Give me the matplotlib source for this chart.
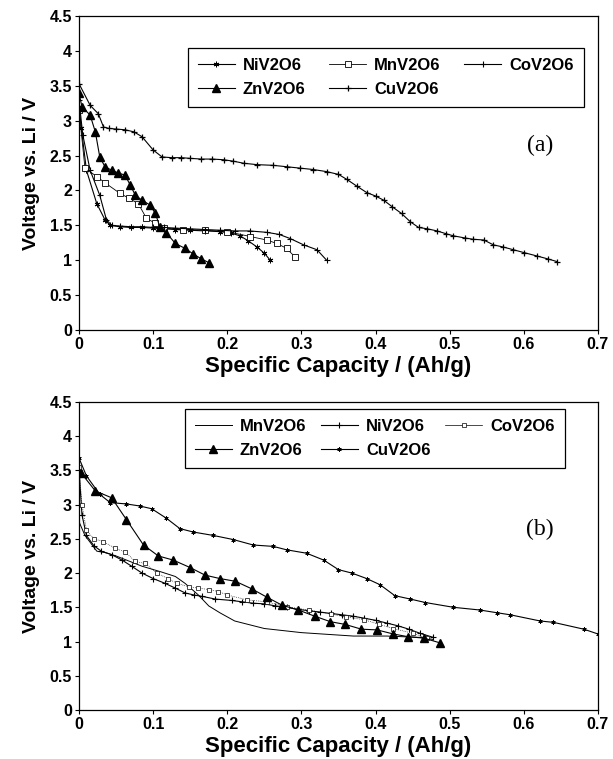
import matplotlib
matplotlib.use("Agg")
import matplotlib.pyplot as plt
from matplotlib.ticker import FixedLocator, FixedFormatter

plt.rcParams['font.family'] = ['Liberation Sans', 'DejaVu Sans']

# ---- axis ticks ----
x_ticks = [0, 0.1, 0.2, 0.3, 0.4, 0.5, 0.6, 0.7]
x_tick_labels = ['0', '0.1', '0.2', '0.3', '0.4', '0.5', '0.6', '0.7']
y_ticks = [0, 0.5, 1, 1.5, 2, 2.5, 3, 3.5, 4, 4.5]
y_tick_labels = ['0', '0.5', '1', '1.5', '2', '2.5', '3', '3.5', '4', '4.5']

# ---- panel (a) ----
a_ni_x = [0, 0.003, 0.01, 0.024, 0.035, 0.042, 0.055, 0.07, 0.085, 0.1, 0.115, 0.13,
          0.15, 0.17, 0.19, 0.205, 0.217, 0.228, 0.24, 0.25, 0.258]
a_ni_v = [3.2, 2.9, 2.29, 1.81, 1.58, 1.5, 1.48, 1.47, 1.47, 1.46, 1.45, 1.44,
          1.43, 1.42, 1.41, 1.39, 1.35, 1.28, 1.19, 1.1, 1.0]

a_mn_x = [0, 0.008, 0.024, 0.035, 0.055, 0.067, 0.08, 0.091, 0.103, 0.115, 0.14,
          0.17, 0.2, 0.231, 0.253, 0.267, 0.28, 0.291]
a_mn_v = [3.15, 2.32, 2.2, 2.11, 1.96, 1.89, 1.81, 1.6, 1.53, 1.46, 1.44,
          1.43, 1.41, 1.34, 1.29, 1.24, 1.17, 1.05]

a_co_x = [0, 0.005, 0.015, 0.028, 0.037, 0.044, 0.055, 0.07, 0.085, 0.1, 0.115, 0.13,
          0.15, 0.17, 0.19, 0.21, 0.23, 0.253, 0.27, 0.285, 0.303, 0.321, 0.334]
a_co_v = [3.3, 2.8, 2.29, 1.93, 1.58, 1.5, 1.49, 1.48, 1.48, 1.47, 1.47, 1.46,
          1.45, 1.44, 1.43, 1.42, 1.42, 1.4, 1.37, 1.31, 1.22, 1.15, 1.0]

a_zn_x = [0, 0.004, 0.015, 0.022, 0.028, 0.035, 0.044, 0.053, 0.062, 0.069, 0.076,
          0.085, 0.096, 0.103, 0.109, 0.118, 0.13, 0.143, 0.154, 0.165, 0.176]
a_zn_v = [3.39, 3.2, 3.08, 2.84, 2.48, 2.34, 2.29, 2.25, 2.22, 2.08, 1.93,
          1.86, 1.79, 1.67, 1.48, 1.39, 1.24, 1.17, 1.09, 1.02, 0.96]

a_cu_x = [0, 0.015, 0.026, 0.033, 0.04, 0.05, 0.062, 0.074, 0.085, 0.1, 0.112, 0.125,
          0.138, 0.15, 0.165, 0.18, 0.195, 0.208, 0.222, 0.24, 0.262, 0.28, 0.298,
          0.316, 0.334, 0.35, 0.361, 0.375, 0.388, 0.4, 0.411, 0.422, 0.435, 0.447,
          0.458, 0.47, 0.483, 0.495, 0.505, 0.52, 0.532, 0.546, 0.559, 0.572, 0.586,
          0.6, 0.618, 0.632, 0.645]
a_cu_v = [3.53, 3.22, 3.1, 2.91, 2.89, 2.88, 2.87, 2.84, 2.77, 2.58, 2.48, 2.47,
          2.47, 2.46, 2.45, 2.45, 2.44, 2.42, 2.39, 2.37, 2.36, 2.34, 2.32,
          2.3, 2.27, 2.23, 2.16, 2.06, 1.97, 1.92, 1.86, 1.77, 1.67, 1.55,
          1.47, 1.45, 1.42, 1.38, 1.35, 1.32, 1.3, 1.29, 1.22, 1.19, 1.15,
          1.11, 1.06, 1.02, 0.98]

# ---- panel (b) ----
b_mn_x = [0, 0.008, 0.024, 0.035, 0.05, 0.085, 0.11, 0.13, 0.143, 0.161, 0.175, 0.19,
          0.21, 0.25, 0.3, 0.37, 0.415, 0.46, 0.478]
b_mn_v = [2.75, 2.55, 2.32, 2.3, 2.25, 2.1, 2.02, 1.95, 1.85, 1.68, 1.52, 1.42,
          1.3, 1.19, 1.13, 1.08, 1.08, 1.06, 1.03]

b_ni_x = [0, 0.004, 0.01, 0.02, 0.03, 0.044, 0.058, 0.071, 0.085, 0.1, 0.116, 0.13,
          0.143, 0.155, 0.166, 0.184, 0.206, 0.22, 0.235, 0.25, 0.265, 0.28, 0.295,
          0.31, 0.325, 0.34, 0.355, 0.37, 0.385, 0.4, 0.415, 0.43, 0.445, 0.46, 0.478]
b_ni_v = [3.5, 2.85, 2.55, 2.4, 2.32, 2.27, 2.19, 2.1, 2.0, 1.92, 1.85, 1.78,
          1.71, 1.68, 1.66, 1.62, 1.6, 1.58, 1.56, 1.55, 1.52, 1.5, 1.47,
          1.45, 1.43, 1.41, 1.39, 1.37, 1.34, 1.31, 1.27, 1.23, 1.18, 1.12, 1.06]

b_co_x = [0, 0.004, 0.01, 0.02, 0.033, 0.049, 0.062, 0.076, 0.089, 0.105, 0.12, 0.132,
          0.148, 0.161, 0.175, 0.188, 0.2, 0.226, 0.253, 0.28, 0.31, 0.34, 0.36,
          0.384, 0.405, 0.424, 0.45, 0.469]
b_co_v = [3.55, 3.0, 2.63, 2.5, 2.46, 2.36, 2.31, 2.17, 2.14, 2.0, 1.92, 1.85,
          1.8, 1.78, 1.76, 1.73, 1.68, 1.61, 1.58, 1.51, 1.46, 1.4, 1.36,
          1.32, 1.25, 1.19, 1.12, 1.05]

b_zn_x = [0.003, 0.022, 0.044, 0.064, 0.087, 0.107, 0.127, 0.15, 0.17, 0.19, 0.211,
          0.233, 0.253, 0.274, 0.296, 0.318, 0.339, 0.359, 0.381, 0.402, 0.424, 0.444,
          0.465, 0.487]
b_zn_v = [3.46, 3.2, 3.1, 2.78, 2.41, 2.25, 2.19, 2.08, 1.97, 1.92, 1.88,
          1.77, 1.65, 1.53, 1.46, 1.37, 1.29, 1.25, 1.18, 1.17, 1.11, 1.07,
          1.05, 0.98]

b_cu_x = [0, 0.01, 0.028, 0.042, 0.064, 0.082, 0.098, 0.118, 0.136, 0.154, 0.181,
          0.208, 0.235, 0.262, 0.28, 0.307, 0.33, 0.35, 0.368, 0.388, 0.406, 0.426,
          0.447, 0.467, 0.505, 0.541, 0.564, 0.582, 0.622, 0.64, 0.681, 0.7]
b_cu_v = [3.68, 3.42, 3.15, 3.03, 3.01, 2.98, 2.94, 2.8, 2.65, 2.6, 2.55,
          2.49, 2.41, 2.39, 2.34, 2.29, 2.19, 2.05, 2.0, 1.92, 1.83, 1.67,
          1.62, 1.57, 1.5, 1.46, 1.42, 1.39, 1.3, 1.28, 1.18, 1.11]

asterisk = (6, 2, 0)


def style_axes(ax):
    ax.set_xlim(0, 0.7)
    ax.set_ylim(0, 4.5)
    ax.xaxis.set_major_locator(FixedLocator(x_ticks))
    ax.xaxis.set_major_formatter(FixedFormatter(x_tick_labels))
    ax.yaxis.set_major_locator(FixedLocator(y_ticks))
    ax.yaxis.set_major_formatter(FixedFormatter(y_tick_labels))
    ax.tick_params(direction='out', length=3, width=0.8, labelsize=11.5, pad=2)
    for lab in ax.get_xticklabels() + ax.get_yticklabels():
        lab.set_fontweight('bold')
    for sp in ax.spines.values():
        sp.set_linewidth(0.9)
    ax.set_xlabel('Specific Capacity / (Ah/g)', fontsize=16, fontweight='bold', labelpad=3)
    ax.set_ylabel('Voltage vs. Li / V', fontsize=14, fontweight='bold', labelpad=7)


def add_legend(ax, handles, box):
    leg = ax.legend(handles=handles, ncol=3, loc='center',
                    bbox_to_anchor=box, mode='expand', borderaxespad=0,
                    prop={'weight': 'bold', 'size': 12}, frameon=True, fancybox=False,
                    edgecolor='black', framealpha=1, handlelength=2.2, handletextpad=0.5,
                    borderpad=0.6, labelspacing=0.55, columnspacing=0.8)
    leg.get_frame().set_linewidth(0.9)
    return leg


fig = plt.figure(figsize=(6.13, 7.59), dpi=100)
ax1 = fig.add_axes([0.1289, 0.5652, 0.8466, 0.4137])
ax2 = fig.add_axes([0.1289, 0.0646, 0.8466, 0.4058])

lw = 0.8
# (a)
h_ni, = ax1.plot(a_ni_x, a_ni_v, color='black', lw=lw, marker=asterisk, ms=4, mew=0.7, label='NiV2O6')
h_mn, = ax1.plot(a_mn_x, a_mn_v, color='black', lw=0.6, marker='s', ms=5, mfc='white', mew=0.6, label='MnV2O6')
h_co, = ax1.plot(a_co_x, a_co_v, color='black', lw=lw, marker='+', ms=4, mew=0.8, label='CoV2O6')
h_zn, = ax1.plot(a_zn_x, a_zn_v, color='black', lw=lw, marker='^', ms=6, label='ZnV2O6')
h_cu, = ax1.plot(a_cu_x, a_cu_v, color='black', lw=lw, marker='+', ms=5, mew=0.9, label='CuV2O6')
style_axes(ax1)
add_legend(ax1, [h_ni, h_zn, h_mn, h_cu, h_co], (0.21, 0.71, 0.763, 0.191))
ax1.text(0.622, 2.65, '(a)', fontsize=17, family=['Liberation Serif', 'DejaVu Serif'],
         ha='center', va='center')

# (b)
g_mn, = ax2.plot(b_mn_x, b_mn_v, color='black', lw=0.7, label='MnV2O6')
g_ni, = ax2.plot(b_ni_x, b_ni_v, color='black', lw=lw, marker='+', ms=5, mew=0.8, label='NiV2O6')
g_co, = ax2.plot(b_co_x, b_co_v, color='black', lw=0.5, ls=':', marker='s', ms=3, mfc='white', mew=0.5, label='CoV2O6')
g_zn, = ax2.plot(b_zn_x, b_zn_v, color='black', lw=lw, marker='^', ms=5.5, label='ZnV2O6')
g_cu, = ax2.plot(b_cu_x, b_cu_v, color='black', lw=lw, marker=asterisk, ms=3, mew=0.6, label='CuV2O6')
style_axes(ax2)
leg = add_legend(ax2, [g_mn, g_zn, g_ni, g_cu, g_co], (0.204, 0.786, 0.732, 0.191))
leg.legend_handles[4].set_linestyle('-')
ax2.text(0.622, 2.64, '(b)', fontsize=17, family=['Liberation Serif', 'DejaVu Serif'],
         ha='center', va='center')

fig.savefig('out.png', dpi=100)
